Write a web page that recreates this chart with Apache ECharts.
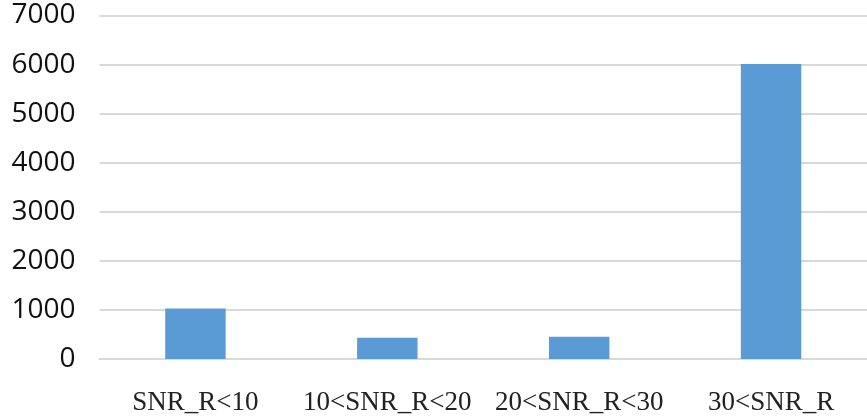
<!DOCTYPE html>
<html>
<head>
<meta charset="utf-8">
<script src="https://cdn.jsdelivr.net/npm/echarts@6/dist/echarts.min.js"></script>
<style>html,body{margin:0;padding:0;background:#fff;}#c{width:867px;height:419px;}</style>
</head>
<body>
<div id="c"></div>
<script>
const categories = ['SNR_R<10', '10<SNR_R<20', '20<SNR_R<30', '30<SNR_R'];
const counts = [1030, 432, 452, 6010];
const yTicks = { min: 0, max: 7000, interval: 1000 };

const chart = echarts.init(document.getElementById('c'), null, { renderer: 'canvas' });
chart.setOption({
  animation: false,
  backgroundColor: '#ffffff',
  grid: { left: 99.5, right: -4.5, top: 15.5, bottom: 60, containLabel: false },
  xAxis: {
    type: 'category',
    data: categories,
    axisLine: { show: true, lineStyle: { color: '#d9d9d9', width: 2 } },
    axisTick: { show: false },
    axisLabel: {
      interval: 0,
      color: '#222',
      fontFamily: '"Liberation Serif", "Times New Roman", serif',
      fontSize: 27,
      margin: 30
    }
  },
  yAxis: {
    type: 'value',
    min: yTicks.min,
    max: yTicks.max,
    interval: yTicks.interval,
    axisLine: { show: false },
    axisTick: { show: false },
    splitLine: { lineStyle: { color: '#d9d9d9', width: 2 } },
    axisLabel: {
      formatter: v => String(v),
      color: '#111',
      fontFamily: '"Open Sans", "Liberation Sans", sans-serif',
      fontSize: 28,
      margin: 24
    }
  },
  series: [{
    type: 'bar',
    data: counts,
    barWidth: '31.5%',
    itemStyle: { color: '#5b9bd5' }
  }]
});
</script>
</body>
</html>
